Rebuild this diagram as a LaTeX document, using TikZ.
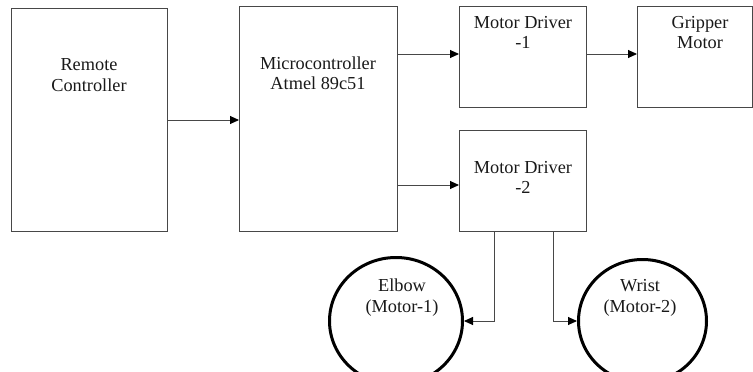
\documentclass[tikz,border=0pt]{standalone}
\usepackage{fontspec}
\setmainfont{Liberation Serif}
\usetikzlibrary{arrows.meta,shapes.geometric}
\begin{document}
\begin{tikzpicture}[x=1pt,y=-1pt,
  blockbox/.style={draw=black!72,line width=0.9pt,rectangle,inner sep=0pt,outer sep=0pt},
  motorcirc/.style={draw=black,line width=3pt,ellipse,inner sep=0pt,outer sep=1.5pt},
  lbl/.style={align=center,font=\fontsize{18.3}{20.5}\selectfont,inner sep=0pt,text=black!90},
  arr/.style={draw=black!72,line width=0.9pt,-{Triangle[length=9pt,width=8pt,color=black]}}]
\useasboundingbox (0,0) rectangle (753,372);
% blocks
\node[blockbox,minimum width=156pt,minimum height=223pt] (remote) at (89,119.5) {};
\node[blockbox,minimum width=158pt,minimum height=225pt] (micro) at (318,118.5) {};
\node[blockbox,minimum width=127pt,minimum height=101pt] (md1) at (522.5,56.5) {};
\node[blockbox,minimum width=115.5pt,minimum height=101pt] (grip) at (694.75,56.5) {};
\node[blockbox,minimum width=127pt,minimum height=101pt] (md2) at (522.5,180.5) {};
\node[motorcirc,minimum width=133pt,minimum height=127pt] (elbow) at (396,321) {};
\node[motorcirc,minimum width=128pt,minimum height=123pt] (wrist) at (642.5,321) {};
% labels
\node[lbl] (remotetxt) at (89,75) {Remote\\Controller};
\node[lbl] (microtxt) at (318,73) {Microcontroller\\Atmel 89c51};
\node[lbl] (md1txt) at (523,32.5) {Motor Driver\\-1};
\node[lbl] (griptxt) at (700,32.5) {Gripper\\Motor};
\node[lbl] (md2txt) at (523,177.5) {Motor Driver\\-2};
\node[lbl] (elbowtxt) at (402,297.5) {Elbow\\(Motor-1)};
\node[lbl] (wristtxt) at (640,298) {Wrist\\(Motor-2)};
% connectors
\draw[arr] ([yshift=-0.5pt]remote.east) -- ([yshift=-0.5pt]remote.east -| micro.west);
\draw[arr] ([yshift=2.5pt]md1.west -| micro.east) -- ([yshift=2.5pt]md1.west);
\draw[arr] ([yshift=2.5pt]md1.east) -- ([yshift=2.5pt]md1.east -| grip.west);
\draw[arr] ([yshift=-4.5pt]md2.west -| micro.east) -- ([yshift=-4.5pt]md2.west);
\draw[arr] ([xshift=-28.5pt]md2.south) |- (elbow.east);
\draw[arr] ([xshift=30.5pt]md2.south) |- (wrist.west);
\end{tikzpicture}
\end{document}
